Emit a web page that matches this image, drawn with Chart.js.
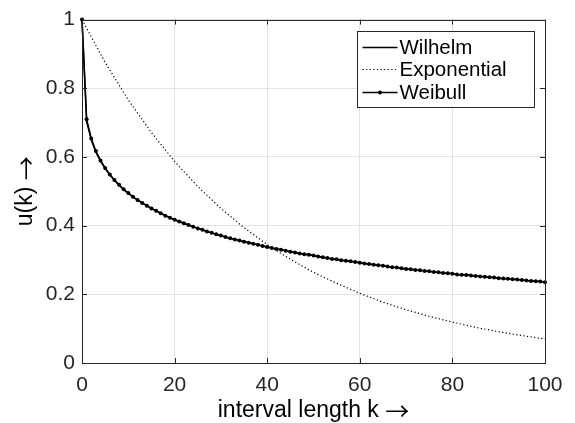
<!DOCTYPE html>
<html>
<head>
<meta charset="utf-8">
<script src="https://cdn.jsdelivr.net/npm/chart.js@4"></script>
<style>
  html, body { margin: 0; padding: 0; background: #fff; }
  #wrap { width: 575px; height: 423px; }
</style>
</head>
<body>
<div id="wrap"><canvas id="uChart" width="575" height="423"></canvas></div>
<script>
// interval length k (Wilhelm / Weibull sampled at every k)
const kValues = [0,1,2,3,4,5,6,7,8,9,10,11,12,13,14,15,16,17,18,19,20,
    21,22,23,24,25,26,27,28,29,30,31,32,33,34,35,36,37,38,39,40,
    41,42,43,44,45,46,47,48,49,50,51,52,53,54,55,56,57,58,59,60,
    61,62,63,64,65,66,67,68,69,70,71,72,73,74,75,76,77,78,79,80,
    81,82,83,84,85,86,87,88,89,90,91,92,93,94,95,96,97,98,99,100];

const weibull = [1.000,0.710,0.654,0.617,0.590,0.568,0.549,0.533,0.519,0.506,0.495,
    0.484,0.475,0.466,0.458,0.450,0.443,0.436,0.429,0.423,0.417,
    0.412,0.407,0.402,0.397,0.392,0.388,0.383,0.379,0.375,0.371,
    0.367,0.363,0.360,0.357,0.353,0.350,0.347,0.344,0.341,0.338,
    0.335,0.332,0.330,0.327,0.324,0.322,0.319,0.317,0.315,0.313,
    0.310,0.308,0.306,0.303,0.302,0.299,0.298,0.296,0.294,0.292,
    0.290,0.288,0.286,0.285,0.283,0.281,0.279,0.278,0.276,0.274,
    0.273,0.271,0.270,0.268,0.267,0.265,0.264,0.262,0.261,0.260,
    0.258,0.257,0.256,0.255,0.253,0.252,0.251,0.250,0.249,0.247,
    0.246,0.245,0.244,0.243,0.242,0.240,0.239,0.238,0.237,0.235];

const wilhelm = [1.000,0.703,0.650,0.614,0.588,0.566,0.548,0.532,0.518,0.505,0.494,
    0.484,0.474,0.466,0.458,0.450,0.443,0.436,0.429,0.423,0.417,
    0.412,0.407,0.402,0.397,0.392,0.388,0.383,0.379,0.375,0.371,
    0.367,0.363,0.360,0.357,0.353,0.350,0.347,0.344,0.341,0.338,
    0.335,0.332,0.330,0.327,0.324,0.322,0.319,0.317,0.315,0.313,
    0.310,0.308,0.306,0.303,0.302,0.299,0.298,0.296,0.294,0.292,
    0.290,0.288,0.286,0.285,0.283,0.281,0.279,0.278,0.276,0.274,
    0.273,0.271,0.270,0.268,0.267,0.265,0.264,0.262,0.261,0.260,
    0.258,0.257,0.256,0.255,0.253,0.252,0.251,0.250,0.249,0.247,
    0.246,0.245,0.244,0.243,0.242,0.240,0.239,0.238,0.237,0.235];

// exponential curve, read every 5 steps
const expK = [0,5,10,15,20,25,30,35,40,45,50,55,60,65,70,75,80,85,90,95,100];
const exponential = [1.000,0.875,0.766,0.671,0.587,0.514,0.450,0.394,0.345,0.302,0.264,
    0.232,0.203,0.177,0.155,0.136,0.119,0.104,0.091,0.080,0.070];

const xTitle = 'interval length k';
const yTitle = 'u(k)';
const ARROW = '\u2192';

const FONT = '"Liberation Sans", Arial, sans-serif';
const AXIS_COLOR = '#262626';

function toXY(xs, ys) {
    return xs.map((x, i) => ({ x: x, y: ys[i] }));
}

// label text followed by a long thin TeX-like arrow, centred on the origin
function drawArrowLabel(ctx, text) {
    ctx.font = '23px ' + FONT;
    const w1 = ctx.measureText(text + ' ').width;
    ctx.font = '24px "Noto Sans CJK JP"';
    const w2 = ctx.measureText(ARROW).width;
    const x0 = -(w1 + w2) / 2;
    ctx.textAlign = 'left';
    ctx.textBaseline = 'alphabetic';
    ctx.fillStyle = '#000';
    ctx.font = '23px ' + FONT;
    ctx.fillText(text + ' ', x0, 0);
    ctx.font = '24px "Noto Sans CJK JP"';
    ctx.fillText(ARROW, x0 + w1, 3);
}

// box around axes, inward ticks, axis labels and the legend, MATLAB style
const matlabAxes = {
    id: 'matlabAxes',
    afterDatasetsDraw(chart) {
        const ctx = chart.ctx;
        const a = chart.chartArea;
        const xs = chart.scales.x, ys = chart.scales.y;
        const tl = 5;
        ctx.save();
        ctx.strokeStyle = AXIS_COLOR;
        ctx.lineWidth = 1;
        ctx.beginPath();
        xs.ticks.forEach(t => {
            const px = Math.round(xs.getPixelForValue(t.value)) + 0.5;
            ctx.moveTo(px, a.bottom); ctx.lineTo(px, a.bottom - tl);
            ctx.moveTo(px, a.top); ctx.lineTo(px, a.top + tl);
        });
        ys.ticks.forEach(t => {
            const py = Math.round(ys.getPixelForValue(t.value)) + 0.5;
            ctx.moveTo(a.left, py); ctx.lineTo(a.left + tl, py);
            ctx.moveTo(a.right, py); ctx.lineTo(a.right - tl, py);
        });
        ctx.stroke();
        ctx.strokeRect(Math.round(a.left) + 0.5, Math.round(a.top) + 0.5,
            Math.round(a.right - a.left), Math.round(a.bottom - a.top));

        // axis labels
        ctx.save();
        ctx.translate((a.left + a.right) / 2, a.bottom + 54);
        drawArrowLabel(ctx, xTitle);
        ctx.restore();
        ctx.save();
        ctx.translate(32, (a.top + a.bottom) / 2);
        ctx.rotate(-Math.PI / 2);
        drawArrowLabel(ctx, yTitle);
        ctx.restore();

        // legend
        const lw = 177, lh = 76;
        const lx = Math.round(a.right) - 11 - lw + 0.5;
        const ly = Math.round(a.top) + 11 + 0.5;
        ctx.fillStyle = '#fff';
        ctx.fillRect(lx, ly, lw, lh);
        ctx.strokeRect(lx, ly, lw, lh);
        ctx.font = '20.5px ' + FONT;
        ctx.textAlign = 'left';
        ctx.textBaseline = 'middle';
        const rows = [16, 38, 61];
        chart.data.datasets.forEach((ds, i) => {
            const ry = ly + rows[i];
            ctx.save();
            ctx.strokeStyle = ds.borderColor;
            ctx.lineWidth = ds.borderWidth;
            ctx.setLineDash(ds.borderDash || []);
            ctx.beginPath();
            ctx.moveTo(lx + 5, ry); ctx.lineTo(lx + 40, ry);
            ctx.stroke();
            if (ds.pointRadius > 0) {
                ctx.fillStyle = ds.pointBackgroundColor;
                ctx.beginPath();
                ctx.arc(lx + 22.5, ry, ds.pointRadius, 0, Math.PI * 2);
                ctx.fill();
            }
            ctx.restore();
            ctx.fillStyle = '#000';
            ctx.fillText(ds.label, lx + 42, ry + 1);
        });
        ctx.restore();
    }
};

new Chart(document.getElementById('uChart').getContext('2d'), {
    type: 'scatter',
    data: {
        datasets: [{
            label: 'Wilhelm',
            data: toXY(kValues, wilhelm),
            showLine: true,
            borderColor: '#000',
            borderWidth: 1.5,
            pointRadius: 0,
            clip: false
        }, {
            label: 'Exponential',
            data: toXY(expK, exponential),
            showLine: true,
            borderColor: '#000',
            borderWidth: 1.2,
            borderDash: [1.2, 2.4],
            pointRadius: 0,
            clip: false
        }, {
            label: 'Weibull',
            data: toXY(kValues, weibull),
            showLine: true,
            borderColor: '#000',
            borderWidth: 1.5,
            pointRadius: 2,
            pointBackgroundColor: '#000',
            pointBorderWidth: 0,
            clip: false
        }]
    },
    options: {
        responsive: false,
        animation: false,
        layout: { padding: { top: 10, right: 30, left: 0, bottom: 0 } },
        plugins: {
            legend: { display: false },
            tooltip: { enabled: false }
        },
        scales: {
            x: {
                type: 'linear',
                min: 0, max: 100,
                ticks: { stepSize: 20, color: AXIS_COLOR, padding: 10, font: { family: FONT, size: 21 } },
                grid: { color: '#e3e3e3', drawTicks: false },
                border: { display: false },
                afterFit(scale) { scale.height = 60; }
            },
            y: {
                min: 0, max: 1,
                ticks: {
                    stepSize: 0.2, color: AXIS_COLOR, padding: 7, font: { family: FONT, size: 21 },
                    callback: v => String(Math.round(v * 10) / 10)
                },
                grid: { color: '#e3e3e3', drawTicks: false },
                border: { display: false },
                afterFit(scale) { scale.width = 82; }
            }
        }
    },
    plugins: [matlabAxes]
});
</script>
</body>
</html>
